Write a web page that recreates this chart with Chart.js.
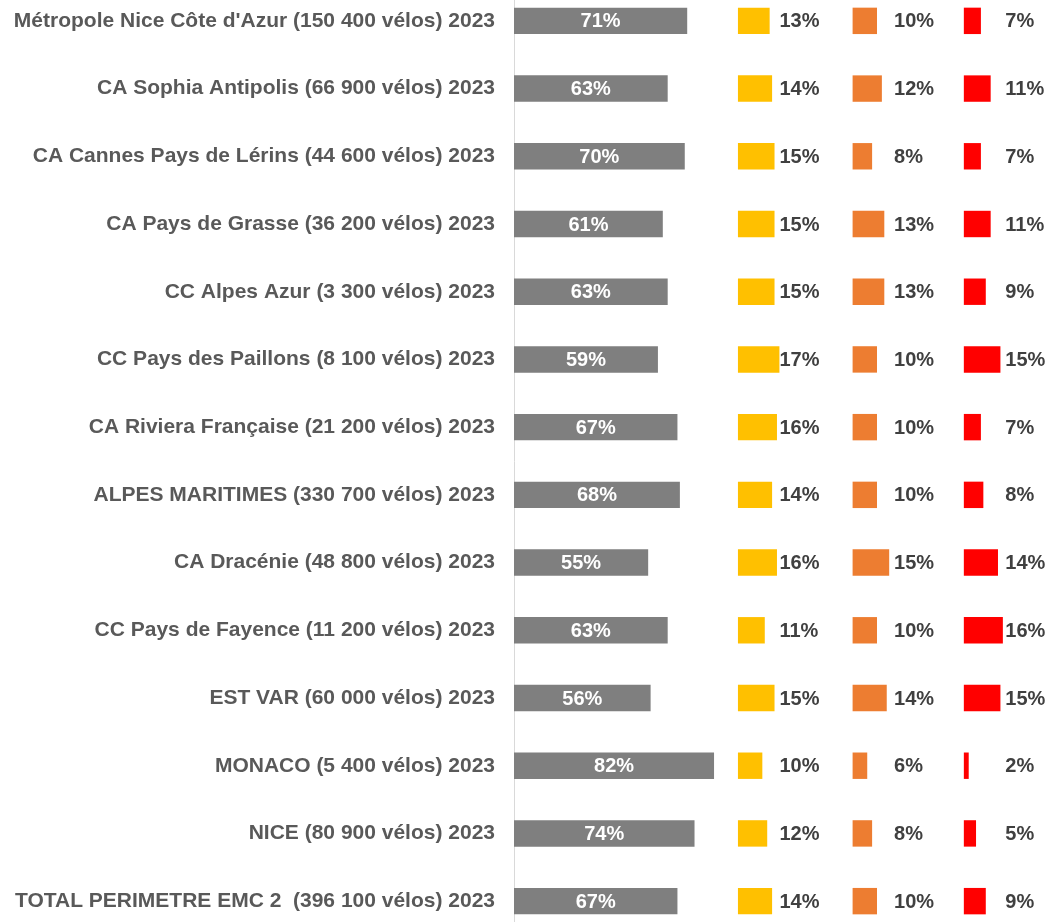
<!DOCTYPE html>
<html><head><meta charset="utf-8">
<script src="https://cdn.jsdelivr.net/npm/chart.js@4/dist/chart.umd.min.js"></script>
<style>
html,body{margin:0;padding:0;background:#fff;overflow:hidden}
#wrap{position:relative;width:1058px;height:922px;overflow:hidden}
#box{position:absolute;left:0;top:-13px;width:1058px;height:948px}
</style></head><body>
<div id="wrap"><div id="box"><canvas id="c"></canvas></div></div>
<script>
const categories = [
  "Métropole Nice Côte d'Azur (150 400 vélos) 2023",
  "CA Sophia Antipolis (66 900 vélos) 2023",
  "CA Cannes Pays de Lérins (44 600 vélos) 2023",
  "CA Pays de Grasse (36 200 vélos) 2023",
  "CC Alpes Azur (3 300 vélos) 2023",
  "CC Pays des Paillons (8 100 vélos) 2023",
  "CA Riviera Française (21 200 vélos) 2023",
  "ALPES MARITIMES (330 700 vélos) 2023",
  "CA Dracénie (48 800 vélos) 2023",
  "CC Pays de Fayence (11 200 vélos) 2023",
  "EST VAR (60 000 vélos) 2023",
  "MONACO (5 400 vélos) 2023",
  "NICE (80 900 vélos) 2023",
  "TOTAL PERIMETRE EMC 2  (396 100 vélos) 2023"
];
const seriesGrey   = [71, 63, 70, 61, 63, 59, 67, 68, 55, 63, 56, 82, 74, 67];
const seriesYellow = [13, 14, 15, 15, 15, 17, 16, 14, 16, 11, 15, 10, 12, 14];
const seriesOrange = [10, 12,  8, 13, 13, 10, 10, 10, 15, 10, 14,  6,  8, 10];
const seriesRed    = [ 7, 11,  7, 11,  9, 15,  7,  8, 14, 16, 15,  2,  5,  9];

// column start of each series on the value axis (layout)
const slotStart = [0, 91.8, 138.8, 184.4];
const colors = ['#7F7F7F', '#FFC000', '#ED7D31', '#FF0000'];
const allSeries = [seriesGrey, seriesYellow, seriesOrange, seriesRed];

const FONT = '"Liberation Sans", Arial, sans-serif';

const valueLabels = {
  id: 'valueLabels',
  afterDatasetsDraw(chart) {
    const ctx = chart.ctx;
    chart.data.datasets.forEach((ds, di) => {
      const meta = chart.getDatasetMeta(di);
      meta.data.forEach((el, i) => {
        const txt = ds.values[i] + '%';
        ctx.save();
        ctx.font = 'bold 20px ' + FONT;
        ctx.textBaseline = 'middle';
        if (di === 0) {
          ctx.fillStyle = '#FFFFFF';
          ctx.textAlign = 'center';
          ctx.fillText(txt, (el.base + el.x) / 2, el.y + 1);
        } else {
          ctx.fillStyle = '#404040';
          ctx.textAlign = 'left';
          ctx.fillText(txt, el.base + 41.5, el.y + 1);
        }
        ctx.restore();
      });
    });
  }
};

new Chart(document.getElementById('c'), {
  type: 'bar',
  data: {
    labels: categories,
    datasets: allSeries.map((vals, k) => ({
      label: 'Série ' + (k + 1),
      values: vals,
      data: vals.map(v => [slotStart[k], slotStart[k] + v]),
      backgroundColor: colors[k],
      borderWidth: 0,
      grouped: false,
      categoryPercentage: 1,
      barPercentage: 0.39
    }))
  },
  options: {
    indexAxis: 'y',
    responsive: true,
    maintainAspectRatio: false,
    animation: false,
    layout: { padding: 0 },
    plugins: { legend: { display: false }, tooltip: { enabled: false } },
    scales: {
      x: { type: 'linear', min: 0, max: 223, display: false },
      y: {
        type: 'category',
        grid: { display: false, drawTicks: false },
        border: { display: true, color: '#D9D9D9', width: 1 },
        ticks: {
          color: '#595959',
          padding: 19,
          font: { family: FONT, size: 21, weight: 'bold' }
        },
        afterFit(s) { s.width = 514; s.paddingTop = 0; s.paddingBottom = 0; }
      }
    }
  },
  plugins: [valueLabels]
});
</script>
</body></html>
